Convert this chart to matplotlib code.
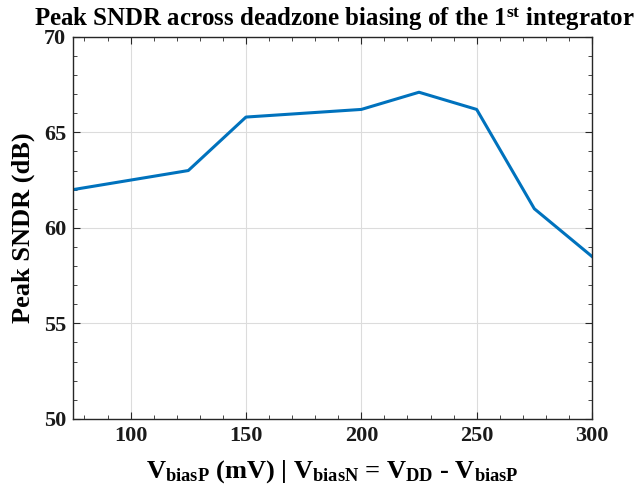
import numpy as np
import matplotlib
matplotlib.use('Agg')
import matplotlib.pyplot as plt
from matplotlib.ticker import MultipleLocator

plt.rcParams['font.family'] = 'Liberation Serif'
plt.rcParams['font.weight'] = 'bold'
plt.rcParams['mathtext.fontset'] = 'custom'
plt.rcParams['mathtext.rm'] = 'Liberation Serif:bold'
plt.rcParams['mathtext.bf'] = 'Liberation Serif:bold'
plt.rcParams['mathtext.it'] = 'Liberation Serif:bold'
plt.rcParams['mathtext.default'] = 'bf'

# data
v_bias_p = [75, 125, 150, 200, 225, 250, 275, 300]  # mV
peak_sndr = [62.0, 63.0, 65.8, 66.2, 67.1, 66.2, 61.0, 58.5]  # dB

fig = plt.figure(figsize=(6.4, 4.98), dpi=100)
ax = fig.add_axes([0.114, 0.159, 0.811, 0.767])

ax.plot(v_bias_p, peak_sndr, color=(0, 0.447, 0.741), linewidth=2.2)

ax.set_xlim(75, 300)
ax.set_ylim(50, 70)
ax.xaxis.set_major_locator(MultipleLocator(50))
ax.xaxis.set_minor_locator(MultipleLocator(10))
ax.yaxis.set_major_locator(MultipleLocator(5))
ax.yaxis.set_minor_locator(MultipleLocator(1))
ax.grid(True, which='major', color='#dcdcdc', linewidth=0.8)
ax.set_axisbelow(True)

ax.tick_params(which='both', direction='in', top=True, right=True,
               colors='#262626', labelcolor='#1a1a1a', labelsize=16)
ax.tick_params(which='major', length=5, pad=5)
ax.tick_params(which='minor', length=3)
for s in ax.spines.values():
    s.set_color('#262626')
    s.set_linewidth(1.0)

ax.set_xlabel('V$_{biasP}$ (mV) | V$_{biasN}$ = V$_{DD}$ - V$_{biasP}$',
              fontsize=19, fontweight='bold', labelpad=9)
ax.set_ylabel('Peak SNDR (dB)', fontsize=19, fontweight='bold', labelpad=6)
fig.text(0.522, 0.948, 'Peak SNDR across deadzone biasing of the 1$^{st}$ integrator',
         fontsize=17.9, fontweight='bold', ha='center', va='baseline')

fig.savefig('out.png', dpi=100)
